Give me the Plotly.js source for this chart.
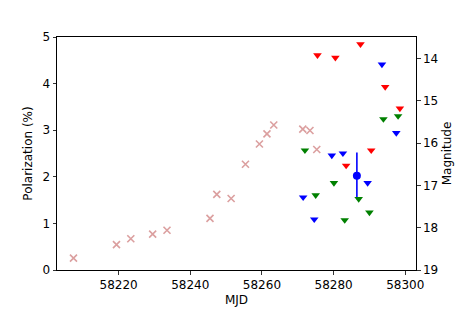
<!DOCTYPE html>
<html>
<head>
<meta charset="utf-8">
<script src="https://cdn.plot.ly/plotly-3.0.1.min.js"></script>
<style>html,body{margin:0;padding:0;background:#fff}#chart{width:463px;height:309px}</style>
</head>
<body>
<div id="chart"></div>
<script>
// Pink crosses (magnitude, right axis)
const crossMJD = [58207.4, 58219.4, 58223.4, 58229.5, 58233.5, 58245.5, 58247.4, 58251.4, 58255.4, 58259.3, 58261.4, 58263.3, 58271.4, 58273.4, 58275.3];
const crossMag = [18.72, 18.40, 18.26, 18.15, 18.06, 17.78, 17.21, 17.31, 16.50, 16.02, 15.78, 15.57, 15.67, 15.70, 16.15];

// Red triangles (magnitude)
const redMJD = [58275.5, 58280.5, 58287.5, 58294.4, 58298.5, 58290.5, 58283.5];
const redMag = [13.92, 13.98, 13.66, 14.67, 15.18, 16.17, 16.53];

// Blue triangles (magnitude)
const blueMJD = [58293.5, 58297.5, 58279.5, 58282.6, 58289.5, 58271.5, 58274.6];
const blueMag = [14.14, 15.76, 16.29, 16.24, 16.94, 17.28, 17.80];

// Green triangles (magnitude)
const greenMJD = [58293.9, 58298.0, 58272.0, 58280.1, 58275.0, 58287.0, 58290.0, 58283.1];
const greenMag = [15.43, 15.36, 16.17, 16.94, 17.23, 17.32, 17.64, 17.82];

// Polarization measurement (left axis)
const polMJD = [58286.5];
const polVal = [2.02];
const polErr = [0.5];

const xTicks = [58220, 58240, 58260, 58280, 58300];
const yTicks = [0, 1, 2, 3, 4, 5];
const y2Ticks = [14, 15, 16, 17, 18, 19];

const font = {family: 'DejaVu Sans, sans-serif', size: 12, color: '#000'};

function tri(x, y, color) {
  return {x: x, y: y, yaxis: 'y2', type: 'scatter', mode: 'markers',
    marker: {symbol: 'triangle-down', size: 7.5, color: color, line: {width: 0}},
    hoverinfo: 'skip', showlegend: false};
}

const traces = [
  {x: crossMJD, y: crossMag, yaxis: 'y2', type: 'scatter', mode: 'markers',
   marker: {symbol: 'x-thin-open', size: 7, color: 'rgba(195,95,95,0.6)', line: {width: 1.6, color: 'rgba(195,95,95,0.6)'}},
   showlegend: false},
  tri(redMJD, redMag, '#ff0000'),
  tri(blueMJD, blueMag, '#0000ff'),
  tri(greenMJD, greenMag, '#008000'),
  {x: polMJD, y: polVal, yaxis: 'y', type: 'scatter', mode: 'markers',
   marker: {symbol: 'circle', size: 8, color: '#0000ff'},
   error_y: {type: 'data', array: polErr, visible: true, color: '#0000ff', thickness: 1.6, width: 0},
   showlegend: false}
];

const layout = {
  width: 463, height: 309,
  margin: {l: 57, r: 47, t: 37, b: 39, pad: 0},
  paper_bgcolor: '#fff', plot_bgcolor: '#fff',
  font: font,
  showlegend: false,
  xaxis: {
    range: [58202.8, 58303.0], tickvals: xTicks, ticktext: xTicks.map(String),
    showgrid: false, zeroline: false, showline: true, linecolor: '#000', linewidth: 1, mirror: true,
    ticks: 'outside', ticklen: 3.5, tickwidth: 0.8, tickcolor: '#000',
    tickfont: font, automargin: false,
    title: {text: 'MJD', font: font, standoff: 4}
  },
  yaxis: {
    range: [0, 5], tickvals: yTicks, ticktext: yTicks.map(String),
    showgrid: false, zeroline: false, showline: true, linecolor: '#000', linewidth: 1, mirror: true,
    ticks: 'outside', ticklen: 3.5, tickwidth: 0.8, tickcolor: '#000',
    tickfont: font, automargin: false,
    title: {text: 'Polarization (%)', font: font, standoff: 7}
  },
  yaxis2: {
    overlaying: 'y', side: 'right', range: [19, 13.49], tickvals: y2Ticks, ticktext: y2Ticks.map(String),
    showgrid: false, zeroline: false, showline: true, linecolor: '#000', linewidth: 1,
    ticks: 'outside', ticklen: 3.5, tickwidth: 0.8, tickcolor: '#000',
    tickfont: font, automargin: false,
    title: {text: 'Magnitude', font: font, standoff: 5}
  }
};

Plotly.newPlot('chart', traces, layout, {displayModeBar: false, staticPlot: true});
</script>
</body>
</html>
